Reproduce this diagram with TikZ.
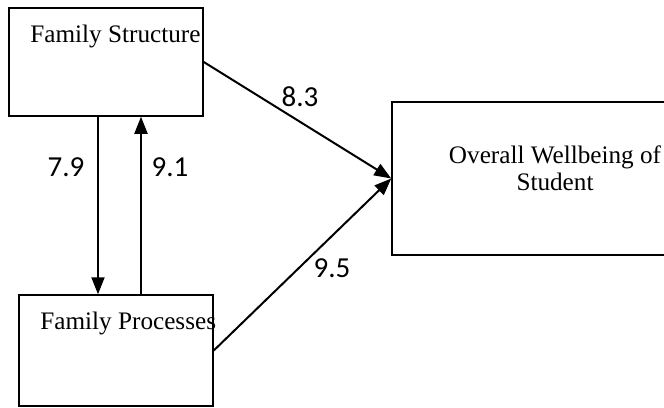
\documentclass[tikz,border=0pt]{standalone}
\usepackage{fontspec}
\setmainfont{Liberation Serif}
\newfontfamily\numfont{Carlito}
\usetikzlibrary{arrows.meta}

\tikzset{
    box/.style={draw, line width=0.75pt, inner sep=0pt},
    boxtext/.style={font=\fontsize{12.6}{15}\selectfont, inner sep=0pt},
    numtext/.style={font=\numfont\fontsize{14.5}{17}\selectfont, inner sep=0pt},
    arr/.style={line width=1pt, -{Triangle[length=8.5pt,width=6.5pt]}}
}

\begin{document}
\begin{tikzpicture}[x=0.5pt,y=-0.5pt]
            \useasboundingbox (0,0) rectangle (664,407);

            \node[box, minimum width=97pt, minimum height=54pt] (fs) at (106,62) {};
            \node[box, minimum width=97pt, minimum height=55.5pt] (fp) at (116,350.5) {};
            \node[box, minimum width=154pt, minimum height=76.5pt] (ow) at (546,178.5) {};

            \node[boxtext, anchor=base west] (fstext) at (30,42) {Family Structure};
            \node[boxtext, anchor=base west] (fptext) at (40,329) {Family Processes};
            \node[boxtext, anchor=base] (owtext1) at (555,163) {Overall Wellbeing of};
            \node[boxtext, anchor=base] (owtext2) at (555,190) {Student};

            \coordinate (dn) at (98,0);
            \coordinate (up) at (141,0);
            \draw[arr] (dn |- fs.south) -- (dn |- fp.north);
            \draw[arr] (up |- fp.north) -- (up |- fs.south);
            \draw[arr] (fs.east) -- (ow.west);
            \draw[arr] (fp.east) -- (ow.west);

            \node[numtext] (w79) at (66,167) {7.9};
            \node[numtext] (w91) at (170,167) {9.1};
            \node[numtext] (w83) at (300,97) {8.3};
            \node[numtext] (w95) at (332,268) {9.5};
        \end{tikzpicture}
\end{document}
